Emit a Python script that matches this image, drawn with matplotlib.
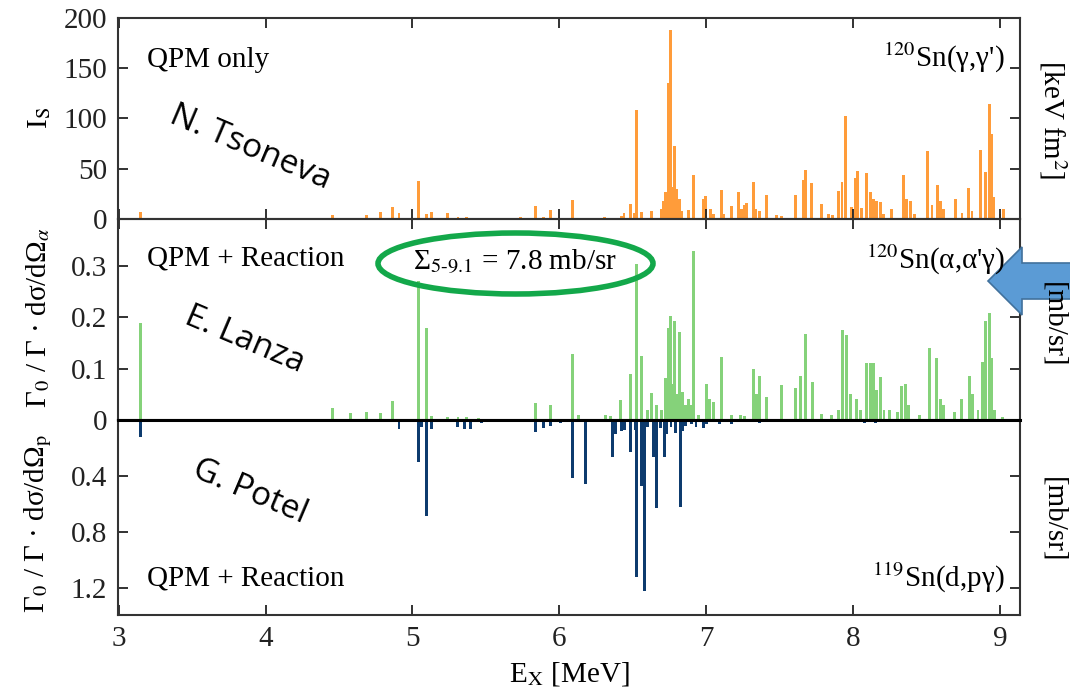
import matplotlib
matplotlib.use("Agg")
import matplotlib.pyplot as plt
from matplotlib.patches import Ellipse, Polygon

# (gamma,gamma') QPM strengths, keV fm^2
e_top = [3.148, 4.454, 4.688, 4.779, 4.865, 4.908, 5.044, 5.097, 5.131, 5.24,
         5.31, 5.365, 5.45, 5.52, 5.737, 5.835, 5.89, 5.937, 6.089, 6.175,
         6.305, 6.38, 6.42, 6.44, 6.486, 6.509, 6.524, 6.56, 6.63, 6.693,
         6.71, 6.725, 6.741, 6.754, 6.766, 6.784, 6.8, 6.817, 6.834, 6.878,
         6.913, 6.981, 6.997, 7.031, 7.05, 7.101, 7.117, 7.174, 7.222, 7.242,
         7.258, 7.276, 7.322, 7.333, 7.362, 7.408, 7.48, 7.515, 7.61, 7.662,
         7.678, 7.719, 7.787, 7.83, 7.86, 7.901, 7.924, 7.951, 7.992, 8.015,
         8.03, 8.06, 8.094, 8.117, 8.139, 8.162, 8.185, 8.208, 8.26, 8.343,
         8.366, 8.393, 8.42, 8.507, 8.537, 8.575, 8.593, 8.616, 8.698, 8.741,
         8.786, 8.809, 8.87, 8.9, 8.927, 8.941, 8.956, 9.0, 9.025]
i_top = [7, 4, 4, 7, 12, 6, 38, 5, 7, 6,
         2, 2, 1, 1, 2, 13, 2, 8.5, 18.5, 1,
         2, 1, 3, 6, 15, 6, 108, 7, 8, 10,
         18, 27, 135, 188, 32, 73, 30, 20, 8, 9,
         44, 20, 23, 10, 5, 29, 5, 13, 27, 10,
         14, 16, 37, 10, 8, 24, 4, 3, 24, 39,
         49, 36, 15, 5, 4, 28, 37, 102, 12, 41,
         48, 11, 46, 27, 20, 18, 17, 5, 10, 44,
         20, 18, 5, 68, 14, 34, 18, 10, 20, 6,
         31, 8, 69, 47, 114, 85, 22, 5, 10]

# (alpha,alpha'gamma) QPM + reaction, mb/sr
e_mid = [3.148, 4.454, 4.579, 4.688, 4.779, 4.865, 5.044, 5.097, 5.131, 5.24,
         5.31, 5.365, 5.45, 5.835, 5.937, 6.089, 6.129, 6.311, 6.35, 6.418,
         6.486, 6.524, 6.56, 6.6, 6.63, 6.66, 6.698, 6.725, 6.743, 6.756,
         6.772, 6.786, 6.8, 6.82, 6.84, 6.86, 6.878, 6.895, 6.913, 6.95,
         6.999, 7.02, 7.05, 7.101, 7.174, 7.23, 7.258, 7.322, 7.34, 7.362,
         7.41, 7.515, 7.61, 7.639, 7.678, 7.724, 7.787, 7.85, 7.9, 7.926,
         7.953, 7.98, 8.02, 8.05, 8.09, 8.115, 8.14, 8.16, 8.185, 8.21,
         8.25, 8.3, 8.33, 8.355, 8.375, 8.45, 8.52, 8.57, 8.593, 8.616,
         8.69, 8.74, 8.789, 8.81, 8.85, 8.878, 8.9, 8.93, 8.945, 8.96,
         9.02]
s_mid = [0.188, 0.023, 0.013, 0.016, 0.014, 0.037, 0.27, 0.178, 0.008, 0.005,
         0.005, 0.005, 0.004, 0.034, 0.03, 0.128, 0.01, 0.01, 0.008, 0.039,
         0.089, 0.303, 0.125, 0.02, 0.052, 0.03, 0.02, 0.081, 0.178, 0.203,
         0.07, 0.193, 0.05, 0.172, 0.055, 0.03, 0.04, 0.03, 0.329, 0.01,
         0.07, 0.04, 0.035, 0.122, 0.01, 0.01, 0.008, 0.099, 0.05, 0.086,
         0.045, 0.068, 0.062, 0.085, 0.167, 0.074, 0.012, 0.01, 0.02, 0.175,
         0.165, 0.05, 0.04, 0.02, 0.111, 0.11, 0.111, 0.058, 0.083, 0.02,
         0.02, 0.015, 0.066, 0.07, 0.03, 0.01, 0.141, 0.12, 0.04, 0.03,
         0.015, 0.04, 0.085, 0.05, 0.02, 0.113, 0.193, 0.209, 0.12, 0.02,
         0.005]

# (d,p gamma) QPM + reaction, mb/sr
e_bot = [3.148, 4.454, 4.908, 5.044, 5.06, 5.097, 5.131, 5.305, 5.357, 5.392,
         5.47, 5.835, 5.89, 5.941, 6.01, 6.089, 6.18, 6.361, 6.38, 6.425,
         6.445, 6.486, 6.516, 6.527, 6.561, 6.579, 6.6, 6.641, 6.663, 6.69,
         6.715, 6.73, 6.76, 6.788, 6.822, 6.84, 6.86, 6.9, 6.93, 6.98,
         7.0, 7.09, 7.17, 7.36, 7.95, 8.08, 8.15, 8.35, 8.5]
s_bot = [0.124, 0.01, 0.064, 0.302, 0.05, 0.683, 0.064, 0.05, 0.065, 0.065,
         0.02, 0.083, 0.06, 0.04, 0.02, 0.417, 0.457, 0.262, 0.1, 0.08,
         0.07, 0.226, 0.07, 1.124, 0.469, 1.219, 0.05, 0.264, 0.631, 0.06,
         0.264, 0.1, 0.05, 0.09, 0.619, 0.08, 0.04, 0.03, 0.05, 0.06,
         0.03, 0.03, 0.03, 0.02, 0.015, 0.02, 0.02, 0.015, 0.01]

plt.rcParams['font.family'] = ['Liberation Serif', 'DejaVu Serif']
plt.rcParams['mathtext.fontset'] = 'stix'
FS = 21

W, H = 1070, 700
fig = plt.figure(figsize=(W / 100, H / 100), dpi=100)


def fx(px):
    return px / W


def fy(py):
    return 1 - py / H


left, width = fx(118), (1020 - 118) / W
ax1 = fig.add_axes([left, fy(219), width, 201 / H])
ax2 = fig.add_axes([left, fy(420), width, 201 / H])
ax3 = fig.add_axes([left, fy(615), width, 195 / H])

bw = 0.02
ax1.bar(e_top, i_top, width=bw, color='#ff9c3a', edgecolor='none')
ax2.bar(e_mid, s_mid, width=bw, color='#85d27a', edgecolor='none')
ax3.bar(e_bot, s_bot, width=bw, color='#0d3b6e', edgecolor='none')

ax1.set_ylim(0, 200)
ax1.set_yticks([0, 50, 100, 150, 200])
ax2.set_ylim(0, 0.391)
ax2.set_yticks([0, 0.1, 0.2, 0.3])
ax2.set_yticklabels(['0', '0.1', '0.2', '0.3'])
ax3.set_ylim(1.393, 0)
ax3.set_yticks([0.4, 0.8, 1.2])

for ax in (ax1, ax2, ax3):
    ax.set_xlim(2.995, 9.136)
    ax.set_xticks([3, 4, 5, 6, 7, 8, 9])
    ax.tick_params(direction='in', length=7, width=1.3, labelsize=FS,
                   top=True, right=True, pad=8, colors='#222')
    for s in ax.spines.values():
        s.set_linewidth(1.5)
        s.set_color('#333')
    ax.patch.set_alpha(0)
ax1.tick_params(labelbottom=False)
ax2.tick_params(labelbottom=False, bottom=False)
ax3.tick_params(top=False)
ax3.spines['top'].set_color('black')
ax3.spines['top'].set_linewidth(2.2)
ax3.set_xlabel('E$_\\mathrm{X}$ [MeV]', fontsize=FS, labelpad=6)

# labels on the left and right
fig.text(fx(40), fy(118), 'I$_\\mathrm{S}$', fontsize=FS, rotation=90,
         ha='center', va='center')
fig.text(fx(38), fy(318), 'Γ$_0$ / Γ · dσ/dΩ$_\\alpha$', fontsize=FS, rotation=90,
         ha='center', va='center')
fig.text(fx(38), fy(523), 'Γ$_0$ / Γ · dσ/dΩ$_\\mathrm{p}$', fontsize=FS, rotation=90,
         ha='center', va='center')
fig.text(fx(1053), fy(120), '[keV fm$^2$]', fontsize=FS, rotation=-90,
         ha='center', va='center')
fig.text(fx(1053), fy(325), '[mb/sr]', fontsize=FS, rotation=-90,
         ha='center', va='center')
fig.text(fx(1053), fy(520), '[mb/sr]', fontsize=FS, rotation=-90,
         ha='center', va='center')

# panel texts
fig.text(fx(147), fy(60), 'QPM only', fontsize=FS, va='center')
fig.text(fx(147), fy(258), 'QPM + Reaction', fontsize=FS, va='center')
fig.text(fx(147), fy(578), 'QPM + Reaction', fontsize=FS, va='center')
fig.text(fx(1005), fy(58), "$^{120}$Sn(γ,γ')", fontsize=FS, ha='right', va='center')
fig.text(fx(1005), fy(260), "$^{120}$Sn(α,α'γ)", fontsize=FS, ha='right', va='center')
fig.text(fx(1005), fy(578), "$^{119}$Sn(d,pγ)", fontsize=FS, ha='right', va='center')

# sum annotation
fig.text(fx(515), fy(262), 'Σ$_{\\mathrm{5\\text{-}9.1}}$ = 7.8 mb/sr', fontsize=FS,
         ha='center', va='center')
fig.patches.append(Ellipse((fx(515.5), fy(263.5)), 275 / W, 61 / H,
                           transform=fig.transFigure, fill=False,
                           edgecolor='#13a84a', linewidth=4))

# arrow on the right
arrow_px = [(988, 281), (1022, 247), (1022, 263), (1072, 263),
            (1072, 299), (1022, 299), (1022, 315)]
fig.patches.append(Polygon([(fx(x), fy(y)) for x, y in arrow_px], closed=True,
                           transform=fig.transFigure, facecolor='#5b9bd5',
                           edgecolor='#41719c', linewidth=1.2))

# author names
sans = ['Open Sans', 'DejaVu Sans']
fig.text(fx(250), fy(148), 'N. Tsoneva', family=sans, fontsize=24, rotation=-23,
         ha='center', va='center')
fig.text(fx(245), fy(340), 'E. Lanza', family=sans, fontsize=24, rotation=-23,
         ha='center', va='center')
fig.text(fx(250), fy(492), 'G. Potel', family=sans, fontsize=24, rotation=-23,
         ha='center', va='center')

fig.savefig('out.png', dpi=100)
